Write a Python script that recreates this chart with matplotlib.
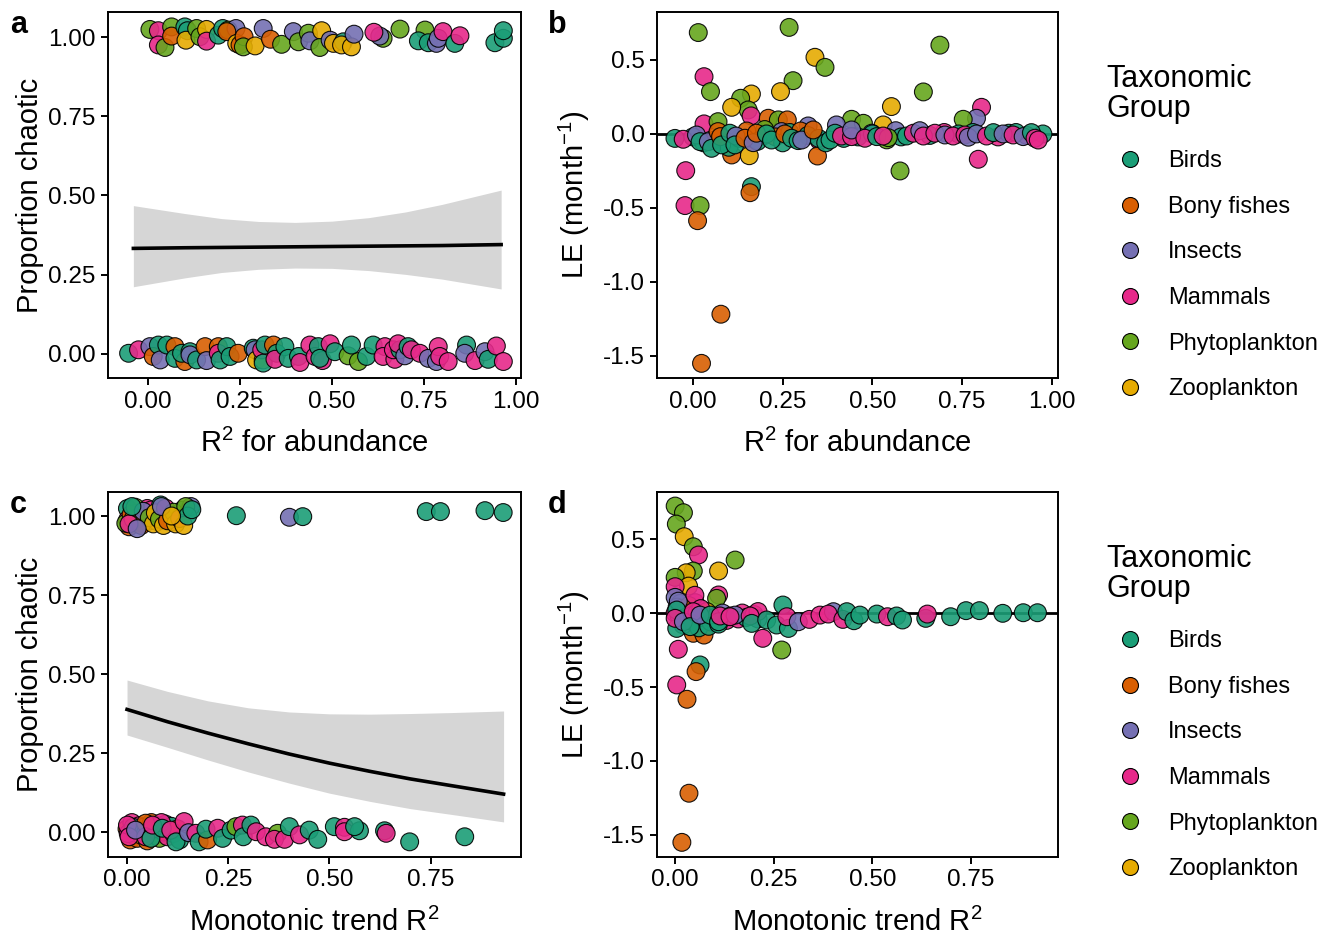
import matplotlib
matplotlib.use("Agg")
import matplotlib.pyplot as plt
from matplotlib.lines import Line2D

plt.rcParams['font.family'] = ['Liberation Sans', 'DejaVu Sans']
plt.rcParams['mathtext.fontset'] = 'custom'
plt.rcParams['mathtext.rm'] = 'Liberation Sans'
plt.rcParams['mathtext.it'] = 'Liberation Sans:italic'
plt.rcParams['axes.unicode_minus'] = False

groups = ['Birds', 'Bony fishes', 'Insects', 'Mammals', 'Phytoplankton', 'Zooplankton']
codes = ['B', 'F', 'I', 'M', 'P', 'Z']
colors = ['#1B9E77', '#D95F02', '#7570B3', '#E7298A', '#66A61E', '#E6AB02']

# a: chaotic (0/1, jittered) vs R2 for abundance
a_x = [0.005, 0.028, 0.028, 0.046, 0.064, 0.064, 0.100, 0.107, 0.103, 0.132, 0.141, 0.159, 0.159, 0.191,
       0.203, 0.218, 0.239, 0.214, 0.241, 0.250, 0.261, 0.259, 0.291, 0.313, 0.333, 0.363, 0.395, 0.409,
       0.436, 0.440, 0.472, 0.467, 0.495, 0.504, 0.531, 0.526, 0.553, 0.560, 0.639, 0.630, 0.614, 0.685,
       0.753, 0.735, 0.762, 0.784, 0.789, 0.802, 0.834, 0.848, 0.943, 0.966, 0.966,
       -0.053, -0.026, 0.005, 0.014, 0.028, 0.033, 0.051, 0.073, 0.073, 0.100, 0.091, 0.114, 0.114, 0.132,
       0.155, 0.159, 0.191, 0.191, 0.196, 0.214, 0.223, 0.245, 0.286, 0.291, 0.295, 0.313, 0.309, 0.313,
       0.318, 0.341, 0.350, 0.345, 0.372, 0.381, 0.409, 0.413, 0.440, 0.454, 0.463, 0.474, 0.467, 0.495,
       0.508, 0.544, 0.572, 0.553, 0.594, 0.612, 0.644, 0.639, 0.671, 0.667, 0.685, 0.680, 0.698, 0.707,
       0.716, 0.739, 0.762, 0.784, 0.789, 0.793, 0.816, 0.866, 0.861, 0.889, 0.916, 0.925, 0.947, 0.966]
a_y = [1.024, 1.020, 0.975, 0.967, 1.032, 1.003, 1.032, 1.020, 0.990, 1.027, 1.001, 1.024, 0.987, 1.006,
       1.027, 1.022, 1.027, 1.017, 0.980, 0.975, 1.001, 0.969, 0.972, 1.027, 0.993, 0.977, 1.017, 0.985,
       1.012, 0.988, 1.020, 0.967, 0.990, 0.980, 0.985, 0.975, 0.969, 1.009, 0.996, 1.003, 1.015, 1.025,
       1.022, 0.988, 0.982, 0.980, 0.996, 1.017, 0.980, 1.004, 0.982, 0.996, 1.020,
       0.002, 0.013, 0.023, -0.008, 0.028, -0.019, 0.028, 0.023, -0.014, -0.024, 0.002, 0.007, -0.003, -0.019,
       0.023, -0.021, 0.023, 0.002, -0.019, 0.023, -0.008, 0.002, 0.018, 0.013, -0.019, -0.019, 0.013, -0.029,
       0.028, 0.028, 0.002, -0.017, 0.023, -0.014, -0.008, -0.027, 0.028, -0.008, 0.023, -0.021, -0.014, 0.032,
       0.007, -0.006, -0.024, 0.028, -0.008, 0.028, 0.023, -0.008, -0.017, 0.013, 0.013, 0.032, -0.006, 0.023,
       0.013, 0.002, -0.014, -0.024, 0.023, -0.008, -0.024, 0.028, 0.002, -0.021, 0.007, -0.017, 0.025, -0.024]
a_g = ['P', 'M', 'M', 'P', 'P', 'F', 'B', 'B', 'Z', 'P', 'P', 'Z', 'M', 'B',
       'B', 'P', 'I', 'F', 'Z', 'F', 'F', 'P', 'Z', 'I', 'F', 'P', 'I', 'P',
       'P', 'I', 'Z', 'P', 'I', 'Z', 'B', 'Z', 'Z', 'I', 'P', 'I', 'M', 'P',
       'P', 'B', 'B', 'I', 'I', 'M', 'B', 'M', 'B', 'B', 'B',
       'B', 'M', 'I', 'F', 'B', 'I', 'B', 'F', 'B', 'F', 'B', 'B', 'I', 'B',
       'F', 'I', 'F', 'M', 'B', 'B', 'B', 'F', 'B', 'I', 'Z', 'Z', 'M', 'B',
       'B', 'F', 'B', 'M', 'B', 'B', 'B', 'M', 'M', 'M', 'B', 'M', 'B', 'M',
       'B', 'P', 'P', 'B', 'B', 'B', 'M', 'M', 'M', 'M', 'B', 'M', 'I', 'B',
       'M', 'M', 'I', 'I', 'M', 'M', 'M', 'B', 'I', 'M', 'I', 'B', 'M', 'M']

# fitted probability and confidence band for a
a_fit_x = [-0.04, 0.10, 0.20, 0.30, 0.40, 0.50, 0.60, 0.70, 0.80, 0.96]
a_fit = [0.333, 0.335, 0.336, 0.337, 0.338, 0.339, 0.340, 0.341, 0.342, 0.345]
a_lo = [0.212, 0.240, 0.257, 0.267, 0.271, 0.270, 0.263, 0.251, 0.236, 0.205]
a_hi = [0.468, 0.443, 0.427, 0.418, 0.415, 0.419, 0.430, 0.448, 0.472, 0.517]

# b: Lyapunov exponent vs R2 for abundance
b_x = [0.015, 0.268, 0.688, 0.340, 0.368, 0.031, 0.279, 0.049, 0.244, 0.642, 0.163, 0.133, 0.154, 0.108,
       0.553, 0.162, 0.804, 0.790, 0.753, 0.031, 0.070, 0.210, 0.238, 0.263, 0.442, 0.475, 0.530, 0.400,
       0.321, 0.247, 0.565, 0.498, 0.196, 0.352, 0.347, 0.157, 0.108, -0.020, 0.577, 0.795, 0.163, 0.159,
       -0.022, 0.020, 0.013, 0.078, 0.024,
       0.000, 0.030, 0.060, 0.090, 0.100, 0.130, 0.150, 0.180, 0.200, 0.230, 0.250, 0.270, 0.300, 0.320,
       0.350, 0.370, 0.420, 0.460, 0.500, 0.540, 0.580, 0.660, 0.700, 0.740, 0.780, 0.850, 0.880, 0.930,
       0.975, 0.900,
       -0.050, -0.027, 0.010, 0.020, 0.043, 0.052, 0.070, 0.077, 0.080, 0.103, 0.120, 0.117, 0.145, 0.168,
       0.177, 0.205, 0.219, 0.256, 0.275, 0.293, 0.303, 0.335, 0.382, 0.396, 0.414, 0.442, 0.442, 0.479,
       0.512, 0.544, 0.530, 0.595, 0.614, 0.632, 0.642, 0.674, 0.702, 0.725, 0.758, 0.767, 0.790, 0.818,
       0.837, 0.864, 0.892, 0.920, 0.943, 0.953, 0.962]
b_y = [0.685, 0.720, 0.600, 0.518, 0.450, 0.387, 0.360, 0.286, 0.286, 0.284, 0.270, 0.241, 0.162, 0.180,
       0.185, 0.122, 0.180, 0.106, 0.099, 0.068, 0.083, 0.106, 0.095, 0.095, 0.099, 0.072, 0.061, 0.061,
       0.054, 0.016, 0.022, 0.005, -0.014, -0.045, -0.149, -0.147, -0.142, -0.248, -0.250, -0.171, -0.356, -0.397,
       -0.484, -0.484, -0.586, -1.218, -1.550,
       -0.020, -0.060, -0.040, -0.050, -0.090, -0.030, 0.020, -0.050, 0.030, -0.020, -0.060, 0.010, 0.020, -0.010,
       -0.030, -0.060, -0.030, -0.020, 0.000, -0.040, -0.020, -0.010, 0.010, 0.000, 0.010, -0.020, 0.005, -0.010,
       0.000, 0.010,
       -0.030, -0.036, -0.007, -0.052, -0.052, -0.097, 0.016, -0.018, -0.074, 0.005, -0.014, -0.074, -0.029, -0.059,
       0.005, 0.000, -0.041, 0.000, -0.029, -0.045, -0.041, 0.027, -0.041, 0.005, -0.014, -0.018, 0.027, -0.029,
       -0.018, -0.025, -0.014, -0.014, 0.005, 0.022, -0.014, 0.005, -0.007, -0.014, -0.007, -0.022, 0.000, -0.014,
       0.009, 0.000, -0.007, -0.018, 0.009, -0.029, -0.041]
b_g = ['P', 'P', 'P', 'Z', 'P', 'M', 'P', 'P', 'Z', 'P', 'Z', 'P', 'P', 'Z',
       'Z', 'M', 'M', 'I', 'P', 'M', 'P', 'F', 'P', 'F', 'P', 'P', 'Z', 'I',
       'I', 'I', 'I', 'I', 'M', 'M', 'F', 'Z', 'F', 'M', 'P', 'M', 'B', 'F',
       'M', 'P', 'F', 'F', 'F',
       'B', 'B', 'F', 'B', 'B', 'B', 'F', 'B', 'P', 'F', 'B', 'B', 'F', 'B',
       'B', 'B', 'B', 'B', 'B', 'P', 'B', 'B', 'M', 'B', 'B', 'M', 'B', 'M',
       'B', 'B',
       'B', 'M', 'I', 'B', 'I', 'B', 'F', 'F', 'B', 'B', 'I', 'B', 'F', 'I',
       'F', 'B', 'B', 'F', 'B', 'B', 'I', 'F', 'B', 'B', 'M', 'M', 'I', 'M',
       'B', 'P', 'M', 'B', 'M', 'I', 'M', 'M', 'I', 'M', 'M', 'I', 'I', 'M',
       'B', 'I', 'M', 'I', 'B', 'M', 'M']

# c: chaotic (0/1, jittered) vs monotonic trend R2
c_x = [0.001, 0.001, 0.021, 0.005, -0.003, 0.050, 0.059, 0.050, 0.075, 0.083, 0.104, 0.112, 0.125, 0.137,
       0.158, 0.038, 0.030,
       0.010, 0.015, 0.020, 0.035, 0.040, 0.055, 0.065, 0.070, 0.080, 0.090, 0.095, 0.100, 0.115, 0.120,
       0.130, 0.140, 0.145, 0.150, 0.005, 0.012, 0.160, 0.085, 0.110, 0.025,
       0.270, 0.401, 0.434, 0.739, 0.774, 0.884, 0.929,
       0.000, 0.008, 0.012, 0.018, 0.025, 0.030, 0.035, 0.040, 0.050, 0.055, 0.060, 0.068, 0.075, 0.080,
       0.090, 0.095, 0.100, 0.110, 0.115, 0.125, 0.130, 0.003, 0.015, 0.045, 0.065, 0.085,
       0.001, 0.005, 0.046, 0.046, 0.021, 0.059, 0.063, 0.087, 0.108, 0.121, 0.141, 0.152, 0.170, 0.178,
       0.199, 0.195, 0.224, 0.236, 0.257, 0.269, 0.285, 0.287, 0.306, 0.319, 0.343, 0.372, 0.364, 0.389,
       0.401, 0.426, 0.450, 0.471, 0.512, 0.537, 0.537, 0.574, 0.562, 0.636, 0.640, 0.698, 0.834]
c_y = [1.024, 0.987, 1.009, 0.966, 0.977, 1.024, 1.019, 0.982, 0.982, 1.035, 0.998, 0.982, 1.003, 1.019,
       1.030, 0.977, 0.993,
       1.005, 0.990, 1.028, 0.970, 1.015, 0.995, 0.975, 1.010, 0.990, 0.970, 1.025, 0.985, 1.012, 0.975,
       0.992, 0.970, 1.030, 1.000, 0.975, 1.030, 1.020, 1.030, 1.000, 0.960,
       1.001, 0.996, 0.998, 1.014, 1.014, 1.017, 1.011,
       0.010, -0.025, 0.030, 0.000, -0.020, 0.020, -0.010, 0.015, -0.028, 0.005, 0.030, -0.010, 0.020, -0.020,
       0.000, 0.025, -0.015, 0.018, -0.005, 0.010, -0.025, -0.005, 0.015, -0.005, 0.010, 0.030,
       0.022, -0.015, 0.028, -0.015, 0.006, -0.020, 0.022, 0.012, 0.006, -0.031, 0.033, -0.002, -0.004, -0.031,
       -0.025, 0.009, 0.012, -0.020, 0.006, 0.017, 0.022, -0.015, 0.022, 0.001, -0.015, -0.004, -0.023, -0.023,
       0.017, -0.009, 0.006, -0.023, 0.017, 0.015, 0.001, 0.004, 0.017, 0.004, -0.004, -0.031, -0.015]
c_g = ['B', 'M', 'I', 'F', 'P', 'M', 'M', 'Z', 'Z', 'B', 'Z', 'M', 'M', 'B',
       'I', 'P', 'I',
       'F', 'Z', 'P', 'F', 'I', 'P', 'Z', 'Z', 'P', 'Z', 'M', 'F', 'P', 'Z',
       'M', 'Z', 'P', 'B', 'M', 'B', 'B', 'I', 'Z', 'I',
       'B', 'I', 'B', 'B', 'B', 'B', 'B',
       'F', 'F', 'M', 'I', 'F', 'M', 'Z', 'I', 'F', 'M', 'F', 'Z', 'M', 'P',
       'F', 'I', 'M', 'B', 'M', 'F', 'B', 'M', 'B', 'B', 'M', 'M',
       'M', 'M', 'F', 'M', 'I', 'B', 'M', 'B', 'M', 'B', 'M', 'I', 'M', 'B',
       'F', 'B', 'M', 'B', 'B', 'P', 'M', 'B', 'B', 'M', 'M', 'P', 'M', 'M',
       'B', 'M', 'B', 'B', 'B', 'M', 'M', 'B', 'B', 'B', 'M', 'B', 'B']

# fitted probability and confidence band for c
c_fit_x = [0.00, 0.10, 0.20, 0.30, 0.40, 0.50, 0.60, 0.70, 0.80, 0.93]
c_fit = [0.388, 0.349, 0.313, 0.279, 0.247, 0.218, 0.192, 0.168, 0.147, 0.120]
c_lo = [0.307, 0.268, 0.228, 0.190, 0.155, 0.123, 0.097, 0.074, 0.056, 0.032]
c_hi = [0.481, 0.445, 0.415, 0.393, 0.380, 0.374, 0.373, 0.375, 0.378, 0.383]

# d: Lyapunov exponent vs monotonic trend R2
d_x = [0.000, 0.021, 0.003, 0.023, 0.046, 0.059, 0.152, 0.110, 0.046, 0.028, 0.000, 0.034, 0.000, 0.110,
       0.105, 0.000, 0.013, 0.051, 0.273, 0.222, 0.270, 0.008, 0.046, 0.073, 0.063, 0.053, 0.004, 0.030,
       0.035, 0.017,
       0.000, 0.005, 0.010, 0.015, 0.020, 0.025, 0.030, 0.035, 0.040, 0.045, 0.055, 0.060, 0.070, 0.080,
       0.090, 0.100, 0.120, 0.130, 0.140, 0.160, 0.170, 0.180, 0.200, 0.210, 0.008, 0.050, 0.065, 0.085,
       0.110, 0.210,
       0.004, 0.004, 0.000, 0.021, 0.046, 0.038, 0.063, 0.089, 0.110, 0.114, 0.152, 0.139, 0.190, 0.194,
       0.232, 0.257, 0.287, 0.283, 0.312, 0.340, 0.367, 0.401, 0.388, 0.425, 0.435, 0.453, 0.468, 0.511,
       0.538, 0.561, 0.576, 0.635, 0.639, 0.698, 0.737, 0.771, 0.830, 0.882, 0.918]
d_y = [0.723, 0.678, 0.601, 0.516, 0.448, 0.392, 0.358, 0.284, 0.284, 0.272, 0.241, 0.182, 0.178, 0.122,
       0.099, 0.106, 0.065, 0.070, 0.054, -0.171, -0.250, -0.245, -0.137, -0.149, -0.351, -0.396, -0.486, -0.583,
       -1.218, -1.550,
       0.000, 0.040, -0.020, 0.030, -0.080, 0.010, -0.040, 0.050, -0.020, -0.060, 0.000, -0.100, -0.030, 0.010,
       -0.060, -0.030, 0.000, -0.050, -0.020, -0.040, 0.000, -0.030, -0.010, -0.040, 0.080, 0.120, 0.030, -0.090,
       -0.075, 0.010,
       0.020, -0.104, -0.036, -0.059, 0.009, -0.092, -0.014, -0.014, -0.059, -0.020, -0.014, -0.025, -0.020, -0.070,
       -0.047, -0.081, -0.104, -0.025, -0.059, -0.043, -0.014, 0.009, -0.007, -0.043, 0.009, -0.052, -0.014, -0.007,
       -0.025, -0.020, -0.047, -0.036, -0.007, -0.025, 0.016, 0.016, -0.002, 0.002, 0.002]
d_g = ['P', 'P', 'P', 'Z', 'P', 'M', 'P', 'Z', 'P', 'Z', 'P', 'Z', 'M', 'M',
       'P', 'I', 'I', 'M', 'B', 'M', 'P', 'M', 'F', 'F', 'B', 'F', 'M', 'F',
       'F', 'F',
       'M', 'I', 'B', 'M', 'I', 'P', 'M', 'F', 'I', 'B', 'M', 'B', 'I', 'Z',
       'B', 'M', 'I', 'M', 'B', 'M', 'M', 'B', 'M', 'I', 'I', 'M', 'M', 'B',
       'B', 'M',
       'B', 'B', 'M', 'I', 'M', 'B', 'I', 'B', 'B', 'M', 'I', 'M', 'M', 'B',
       'B', 'B', 'B', 'M', 'I', 'M', 'M', 'I', 'M', 'M', 'B', 'B', 'B', 'B',
       'M', 'B', 'B', 'B', 'M', 'B', 'B', 'B', 'B', 'B', 'B']

cmap = dict(zip(codes, colors))
W, H = 1330, 940
fig = plt.figure(figsize=(W / 100, H / 100), dpi=100)


def box(l, t, r, b):
    return [l / W, 1 - b / H, (r - l) / W, (b - t) / H]


def style(ax):
    for s in ax.spines.values():
        s.set_linewidth(1.4)
        s.set_color('black')
    ax.tick_params(direction='out', length=5, width=1.4, labelsize=17.5, colors='black', pad=4)


def dots(ax, xs, ys, gs):
    ax.scatter(xs, ys, c=[cmap[g] for g in gs], s=165, edgecolors='black',
               linewidths=0.8, alpha=0.9, zorder=3)


ax_a = fig.add_axes(box(108, 12, 521, 378))
ax_b = fig.add_axes(box(657, 12, 1058, 378))
ax_c = fig.add_axes(box(108, 492, 521, 857))
ax_d = fig.add_axes(box(657, 492, 1058, 857))

# proportion chaotic panels
for ax, xs, ys, gs, fx, fit, lo, hi in [(ax_a, a_x, a_y, a_g, a_fit_x, a_fit, a_lo, a_hi),
                                        (ax_c, c_x, c_y, c_g, c_fit_x, c_fit, c_lo, c_hi)]:
    dots(ax, xs, ys, gs)
    ax.fill_between(fx, lo, hi, color='#D6D6D6', lw=0, zorder=4)
    ax.plot(fx, fit, color='black', lw=2.6, zorder=5)
    ax.set_yticks([0, 0.25, 0.5, 0.75, 1.0])
    ax.set_yticklabels(['0.00', '0.25', '0.50', '0.75', '1.00'])
    ax.set_xticks([0, 0.25, 0.5, 0.75, 1.0])
    ax.set_xticklabels(['0.00', '0.25', '0.50', '0.75', '1.00'])
    ax.set_ylabel('Proportion chaotic', fontsize=21)
    ax.yaxis.set_label_coords(-0.19, 0.5)

# LE panels
for ax, xs, ys, gs in [(ax_b, b_x, b_y, b_g), (ax_d, d_x, d_y, d_g)]:
    ax.axhline(0, color='black', lw=2, zorder=2)
    dots(ax, xs, ys, gs)
    ax.set_yticks([0.5, 0, -0.5, -1.0, -1.5])
    ax.set_yticklabels(['0.5', '0.0', '-0.5', '-1.0', '-1.5'])
    ax.set_xticks([0, 0.25, 0.5, 0.75, 1.0])
    ax.set_xticklabels(['0.00', '0.25', '0.50', '0.75', '1.00'])
    ax.set_ylabel('LE (month$^{-1}$)', fontsize=21)
    ax.yaxis.set_label_coords(-0.205, 0.5)

ax_a.set_xlim(-0.109, 1.014)
ax_a.set_ylim(-0.076, 1.079)
ax_b.set_xlim(-0.100, 1.017)
ax_b.set_ylim(-1.649, 0.824)
ax_c.set_xlim(-0.047, 0.973)
ax_c.set_ylim(-0.079, 1.076)
ax_d.set_xlim(-0.046, 0.970)
ax_d.set_ylim(-1.649, 0.818)

for ax in (ax_a, ax_b):
    ax.set_xlabel('R$^2$ for abundance', fontsize=21)
for ax in (ax_c, ax_d):
    ax.set_xlabel('Monotonic trend R$^2$', fontsize=21)

for ax in (ax_a, ax_b, ax_c, ax_d):
    style(ax)
    ax.xaxis.set_label_coords(0.5, -0.18)
    ax.xaxis.label.set_va('center')
    ax.yaxis.label.set_va('center')

for lab, px, py in [('a', 10, 25), ('b', 548, 25), ('c', 10, 505), ('d', 548, 505)]:
    fig.text(px / W, 1 - py / H, lab, fontsize=22, fontweight='bold', va='center', ha='left')

handles = [Line2D([], [], ls='', marker='o', markersize=11.5, markerfacecolor=c,
                  markeredgecolor='black', markeredgewidth=0.8) for c in colors]
for top in (52, 532):
    leg = fig.legend(handles, groups, loc='upper left', bbox_to_anchor=(1095 / W, 1 - top / H),
                     frameon=False, title='Taxonomic\nGroup', title_fontsize=22, fontsize=17,
                     alignment='left', borderpad=0, handlelength=2.0, handletextpad=0.6,
                     labelspacing=1.0)
    leg.get_title().set_linespacing(1.0)
    leg._legend_box.sep = 19

fig.savefig('out.png', dpi=100)
